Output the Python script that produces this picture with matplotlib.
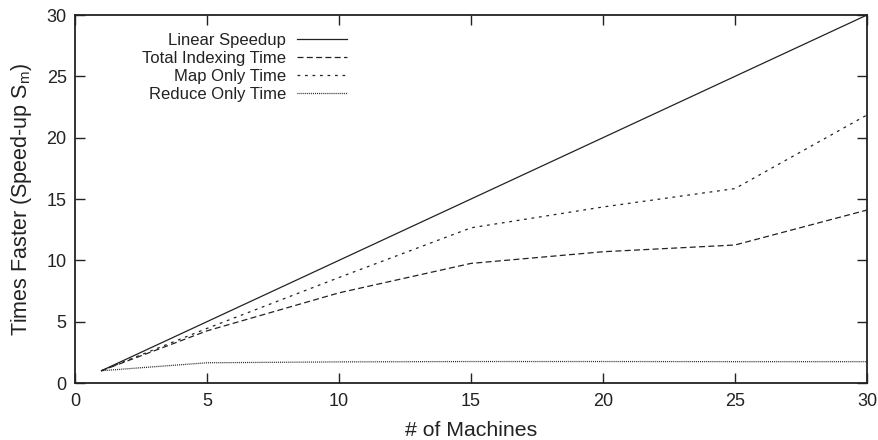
import matplotlib
matplotlib.use("Agg")
import matplotlib.pyplot as plt

plt.rcParams['font.family'] = ['Liberation Sans', 'DejaVu Sans']
plt.rcParams['mathtext.fontset'] = 'custom'
plt.rcParams['mathtext.rm'] = 'Liberation Sans'
plt.rcParams['lines.scale_dashes'] = False

machines = [1, 5, 10, 15, 20, 25, 30]
linear_speedup = [1, 5, 10, 15, 20, 25, 30]
total_indexing = [1, 4.25, 7.35, 9.75, 10.7, 11.25, 14.1]
map_only = [1, 4.45, 8.6, 12.65, 14.35, 15.85, 21.85]
reduce_only = [1, 1.65, 1.72, 1.75, 1.75, 1.74, 1.74]

fig = plt.figure(figsize=(8.79, 4.4), dpi=100)
ax = fig.add_axes([75/879, 1-383/440, (867-75)/879, (383-15)/440])

c = '#222222'
lw = 0.9
ax.plot(machines, linear_speedup, color=c, lw=lw, label='Linear Speedup')
ax.plot(machines, total_indexing, color=c, lw=lw, dashes=(4.3, 2.4), label='Total Indexing Time')
ax.plot(machines, map_only, color=c, lw=lw, dashes=(2.0, 3.4), label='Map Only Time')
ax.plot(machines, reduce_only, color=c, lw=lw, dashes=(0.7, 0.7), label='Reduce Only Time')

ax.set_xlim(0, 30)
ax.set_ylim(0, 30)
ax.set_xticks([0, 5, 10, 15, 20, 25, 30])
ax.set_yticks([0, 5, 10, 15, 20, 25, 30])
ax.tick_params(direction='in', length=7, width=1, top=True, right=True, labelsize=13, colors='#222222')
ax.tick_params(axis='x', pad=7)
ax.tick_params(axis='y', pad=6)
for s in ax.spines.values():
    s.set_linewidth(1.3)
    s.set_color('#222222')

ax.set_xlabel('# of Machines', fontsize=15.3, labelpad=8, color='#222222')
ax.set_ylabel('Times Faster (Speed-up S$_\\mathregular{m}$)', fontsize=15.5, labelpad=9, color='#222222')

leg = ax.legend(loc='upper right', bbox_to_anchor=(0.344, 0.952), frameon=False, markerfirst=False,
                fontsize=12, handlelength=3.0, handletextpad=0.7, labelspacing=0.18, borderaxespad=0,
                borderpad=0)
for t in leg.get_texts():
    t.set_color('#222222')
# right-align each row (text + handle) within the legend column
for col in leg._legend_handle_box.get_children():
    col.align = 'right'

fig.savefig('out.png', dpi=100)
